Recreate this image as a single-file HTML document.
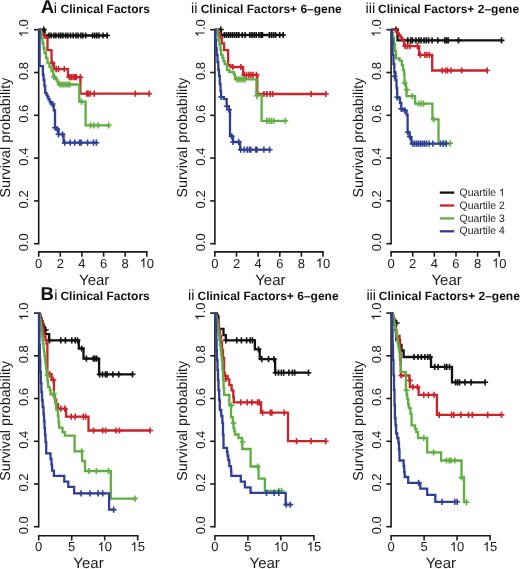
<!DOCTYPE html>
<html><head><meta charset="utf-8"><style>
html,body{margin:0;padding:0;background:#fff;}
svg{display:block;filter:blur(0.3px);font-family:"Liberation Sans", sans-serif;text-rendering:geometricPrecision;}
</style></head><body>
<svg width="520" height="569" viewBox="0 0 520 569">
<rect width="520" height="569" fill="#fff"/>
<g stroke="#1a1a1a" stroke-width="1.6" fill="none" stroke-linecap="butt">
<line x1="38.7" y1="29.7" x2="38.7" y2="244.5"/>
<line x1="34.0" y1="243.7" x2="38.7" y2="243.7"/><line x1="34.0" y1="200.9" x2="38.7" y2="200.9"/><line x1="34.0" y1="158.1" x2="38.7" y2="158.1"/><line x1="34.0" y1="115.3" x2="38.7" y2="115.3"/><line x1="34.0" y1="72.5" x2="38.7" y2="72.5"/><line x1="34.0" y1="29.7" x2="38.7" y2="29.7"/>
<line x1="37.9" y1="251.9" x2="147.6" y2="251.9"/>
<line x1="38.7" y1="251.9" x2="38.7" y2="256.7"/>
<line x1="60.3" y1="251.9" x2="60.3" y2="256.7"/>
<line x1="81.9" y1="251.9" x2="81.9" y2="256.7"/>
<line x1="103.6" y1="251.9" x2="103.6" y2="256.7"/>
<line x1="125.2" y1="251.9" x2="125.2" y2="256.7"/>
<line x1="146.8" y1="251.9" x2="146.8" y2="256.7"/>
</g>
<g fill="#1a1a1a" font-size="13" text-anchor="middle">
<g transform="translate(38.70,267.60)"><text x="-3.61" y="0" font-size="13" fill="#1a1a1a" text-anchor="start">0</text></g>
<g transform="translate(60.32,267.60)"><text x="-3.61" y="0" font-size="13" fill="#1a1a1a" text-anchor="start">2</text></g>
<g transform="translate(81.94,267.60)"><text x="-3.61" y="0" font-size="13" fill="#1a1a1a" text-anchor="start">4</text></g>
<g transform="translate(103.56,267.60)"><text x="-3.61" y="0" font-size="13" fill="#1a1a1a" text-anchor="start">6</text></g>
<g transform="translate(125.18,267.60)"><text x="-3.61" y="0" font-size="13" fill="#1a1a1a" text-anchor="start">8</text></g>
<g transform="translate(146.80,267.60)"><path transform="translate(-7.23,0) scale(0.00635,-0.00635)" d="M763 0L583 0L583 1147Q518 1085 412.5 1023Q307 961 223 930L223 1104Q374 1175 487 1276Q600 1377 647 1472L763 1472Z" fill="#1a1a1a"/><text x="0.00" y="0" font-size="13" fill="#1a1a1a" text-anchor="start">0</text></g>
<g transform="translate(28.30,242.20) rotate(-90)"><text x="-9.04" y="0" font-size="13" fill="#1a1a1a" text-anchor="start">0.0</text></g>
<g transform="translate(28.30,199.40) rotate(-90)"><text x="-9.04" y="0" font-size="13" fill="#1a1a1a" text-anchor="start">0.2</text></g>
<g transform="translate(28.30,156.60) rotate(-90)"><text x="-9.04" y="0" font-size="13" fill="#1a1a1a" text-anchor="start">0.4</text></g>
<g transform="translate(28.30,113.80) rotate(-90)"><text x="-9.04" y="0" font-size="13" fill="#1a1a1a" text-anchor="start">0.6</text></g>
<g transform="translate(28.30,71.00) rotate(-90)"><text x="-9.04" y="0" font-size="13" fill="#1a1a1a" text-anchor="start">0.8</text></g>
<g transform="translate(28.30,28.20) rotate(-90)"><path transform="translate(-9.04,0) scale(0.00635,-0.00635)" d="M763 0L583 0L583 1147Q518 1085 412.5 1023Q307 961 223 930L223 1104Q374 1175 487 1276Q600 1377 647 1472L763 1472Z" fill="#1a1a1a"/><text x="-1.81" y="0" font-size="13" fill="#1a1a1a" text-anchor="start">.0</text></g>
</g>
<text x="94.2" y="285.1" font-size="15" text-anchor="middle" fill="#1a1a1a">Year</text>
<text transform="translate(10.3,137.6) rotate(-90)" font-size="14.3" text-anchor="middle" fill="#1a1a1a">Survival probability</text>
<path d="M38.7 29.7H44.6V35.5H107.2" stroke="#111" stroke-width="2.3" fill="none"/>
<path d="M43.8 26.4v6.2M40.9 29.5h5.8M49.0 32.4v6.2M46.1 35.5h5.8M51.1 32.4v6.2M48.2 35.5h5.8M53.9 32.4v6.2M51.0 35.5h5.8M55.9 32.4v6.2M53.0 35.5h5.8M58.7 32.4v6.2M55.8 35.5h5.8M60.8 32.4v6.2M57.9 35.5h5.8M62.9 32.4v6.2M60.0 35.5h5.8M65.6 32.4v6.2M62.7 35.5h5.8M67.7 32.4v6.2M64.8 35.5h5.8M70.5 32.4v6.2M67.6 35.5h5.8M73.2 32.4v6.2M70.3 35.5h5.8M76.0 32.4v6.2M73.1 35.5h5.8M78.1 32.4v6.2M75.2 35.5h5.8M80.9 32.4v6.2M78.0 35.5h5.8M82.9 32.4v6.2M80.0 35.5h5.8M85.7 32.4v6.2M82.8 35.5h5.8M92.6 32.4v6.2M89.7 35.5h5.8M94.7 32.4v6.2M91.8 35.5h5.8M96.8 32.4v6.2M93.9 35.5h5.8M98.9 32.4v6.2M96.0 35.5h5.8M103.0 32.4v6.2M100.1 35.5h5.8M107.2 32.4v6.2M104.3 35.5h5.8" stroke="#111" stroke-width="1.6" fill="none"/>
<path d="M38.7 29.7H40.5V32.5H42.0V35.0H44.8V37.5H47.5V50.2H51.5V63.0H53.9V69.1H67.9V77.2H80.4V93.7H149.2" stroke="#cc2229" stroke-width="2.3" fill="none"/>
<path d="M52.5 60.2v6.2M49.6 63.3h5.8M56.2 66.0v6.2M53.3 69.1h5.8M58.5 66.0v6.2M55.6 69.1h5.8M64.3 66.0v6.2M61.4 69.1h5.8M69.4 74.1v6.2M66.5 77.2h5.8M71.2 74.1v6.2M68.3 77.2h5.8M73.0 74.1v6.2M70.1 77.2h5.8M74.8 74.1v6.2M71.9 77.2h5.8M76.4 74.1v6.2M73.5 77.2h5.8M80.4 74.1v6.2M77.5 77.2h5.8M86.7 90.6v6.2M83.8 93.7h5.8M88.2 90.6v6.2M85.3 93.7h5.8M90.2 90.6v6.2M87.3 93.7h5.8M94.2 90.6v6.2M91.3 93.7h5.8M135.3 90.6v6.2M132.4 93.7h5.8M149.2 90.6v6.2M146.3 93.7h5.8" stroke="#cc2229" stroke-width="1.6" fill="none"/>
<path d="M38.7 29.7H40.5V33.0H41.5V38.0H42.5V43.0H43.5V48.0H44.5V53.0H46.0V58.0H47.5V63.0H49.5V67.0H51.5V71.0H53.3V75.6H54.5V77.5H56.0V79.5H57.5V82.0H58.3V84.5H79.3V101.6H85.6V125.4H108.7" stroke="#60ae42" stroke-width="2.3" fill="none"/>
<path d="M53.9 73.9v6.2M51.0 77.0h5.8M60.0 81.4v6.2M57.1 84.5h5.8M62.0 81.4v6.2M59.1 84.5h5.8M64.0 81.4v6.2M61.1 84.5h5.8M66.0 81.4v6.2M63.1 84.5h5.8M68.0 81.4v6.2M65.1 84.5h5.8M70.0 81.4v6.2M67.1 84.5h5.8M81.5 98.5v6.2M78.6 101.6h5.8M90.6 122.3v6.2M87.7 125.4h5.8M93.9 122.3v6.2M91.0 125.4h5.8M98.2 122.3v6.2M95.3 125.4h5.8M108.7 122.3v6.2M105.8 125.4h5.8" stroke="#60ae42" stroke-width="1.6" fill="none"/>
<path d="M38.7 29.7H39.6V66.2H42.9V75.0H43.6V80.0H44.4V86.0H45.2V92.9H46.5V95.0H47.5V97.0H48.5V99.5H49.8V102.0H51.0V104.0H52.7V105.8H53.8V110.4H55.0V127.7H57.3V129.4H58.5V134.3H63.6V142.7H96.4" stroke="#303f96" stroke-width="2.3" fill="none"/>
<path d="M52.7 100.9v6.2M49.8 104.0h5.8M55.0 124.6v6.2M52.1 127.7h5.8M57.3 126.3v6.2M54.4 129.4h5.8M58.5 131.2v6.2M55.6 134.3h5.8M62.5 131.2v6.2M59.6 134.3h5.8M64.7 139.6v6.2M61.8 142.7h5.8M70.2 139.6v6.2M67.3 142.7h5.8M74.8 139.6v6.2M71.9 142.7h5.8M79.5 139.6v6.2M76.6 142.7h5.8M81.2 139.6v6.2M78.3 142.7h5.8M87.5 139.6v6.2M84.6 142.7h5.8M93.5 139.6v6.2M90.6 142.7h5.8M96.4 139.6v6.2M93.5 142.7h5.8" stroke="#303f96" stroke-width="1.6" fill="none"/>
<g stroke="#1a1a1a" stroke-width="1.6" fill="none" stroke-linecap="butt">
<line x1="214.9" y1="29.7" x2="214.9" y2="244.5"/>
<line x1="210.2" y1="243.7" x2="214.9" y2="243.7"/><line x1="210.2" y1="200.9" x2="214.9" y2="200.9"/><line x1="210.2" y1="158.1" x2="214.9" y2="158.1"/><line x1="210.2" y1="115.3" x2="214.9" y2="115.3"/><line x1="210.2" y1="72.5" x2="214.9" y2="72.5"/><line x1="210.2" y1="29.7" x2="214.9" y2="29.7"/>
<line x1="214.1" y1="251.9" x2="323.8" y2="251.9"/>
<line x1="214.9" y1="251.9" x2="214.9" y2="256.7"/>
<line x1="236.5" y1="251.9" x2="236.5" y2="256.7"/>
<line x1="258.1" y1="251.9" x2="258.1" y2="256.7"/>
<line x1="279.8" y1="251.9" x2="279.8" y2="256.7"/>
<line x1="301.4" y1="251.9" x2="301.4" y2="256.7"/>
<line x1="323.0" y1="251.9" x2="323.0" y2="256.7"/>
</g>
<g fill="#1a1a1a" font-size="13" text-anchor="middle">
<g transform="translate(214.90,267.60)"><text x="-3.61" y="0" font-size="13" fill="#1a1a1a" text-anchor="start">0</text></g>
<g transform="translate(236.52,267.60)"><text x="-3.61" y="0" font-size="13" fill="#1a1a1a" text-anchor="start">2</text></g>
<g transform="translate(258.14,267.60)"><text x="-3.61" y="0" font-size="13" fill="#1a1a1a" text-anchor="start">4</text></g>
<g transform="translate(279.76,267.60)"><text x="-3.61" y="0" font-size="13" fill="#1a1a1a" text-anchor="start">6</text></g>
<g transform="translate(301.38,267.60)"><text x="-3.61" y="0" font-size="13" fill="#1a1a1a" text-anchor="start">8</text></g>
<g transform="translate(323.00,267.60)"><path transform="translate(-7.23,0) scale(0.00635,-0.00635)" d="M763 0L583 0L583 1147Q518 1085 412.5 1023Q307 961 223 930L223 1104Q374 1175 487 1276Q600 1377 647 1472L763 1472Z" fill="#1a1a1a"/><text x="0.00" y="0" font-size="13" fill="#1a1a1a" text-anchor="start">0</text></g>
<g transform="translate(204.50,242.20) rotate(-90)"><text x="-9.04" y="0" font-size="13" fill="#1a1a1a" text-anchor="start">0.0</text></g>
<g transform="translate(204.50,199.40) rotate(-90)"><text x="-9.04" y="0" font-size="13" fill="#1a1a1a" text-anchor="start">0.2</text></g>
<g transform="translate(204.50,156.60) rotate(-90)"><text x="-9.04" y="0" font-size="13" fill="#1a1a1a" text-anchor="start">0.4</text></g>
<g transform="translate(204.50,113.80) rotate(-90)"><text x="-9.04" y="0" font-size="13" fill="#1a1a1a" text-anchor="start">0.6</text></g>
<g transform="translate(204.50,71.00) rotate(-90)"><text x="-9.04" y="0" font-size="13" fill="#1a1a1a" text-anchor="start">0.8</text></g>
<g transform="translate(204.50,28.20) rotate(-90)"><path transform="translate(-9.04,0) scale(0.00635,-0.00635)" d="M763 0L583 0L583 1147Q518 1085 412.5 1023Q307 961 223 930L223 1104Q374 1175 487 1276Q600 1377 647 1472L763 1472Z" fill="#1a1a1a"/><text x="-1.81" y="0" font-size="13" fill="#1a1a1a" text-anchor="start">.0</text></g>
</g>
<text x="270.4" y="285.1" font-size="15" text-anchor="middle" fill="#1a1a1a">Year</text>
<text transform="translate(186.5,137.6) rotate(-90)" font-size="14.3" text-anchor="middle" fill="#1a1a1a">Survival probability</text>
<path d="M214.9 29.7H221.0V35.0H283.2" stroke="#111" stroke-width="2.3" fill="none"/>
<path d="M220.8 26.4v6.2M217.9 29.5h5.8M224.3 31.9v6.2M221.4 35.0h5.8M226.4 31.9v6.2M223.5 35.0h5.8M228.5 31.9v6.2M225.6 35.0h5.8M230.5 31.9v6.2M227.6 35.0h5.8M232.6 31.9v6.2M229.7 35.0h5.8M234.7 31.9v6.2M231.8 35.0h5.8M236.8 31.9v6.2M233.9 35.0h5.8M238.9 31.9v6.2M236.0 35.0h5.8M242.3 31.9v6.2M239.4 35.0h5.8M245.1 31.9v6.2M242.2 35.0h5.8M249.9 31.9v6.2M247.0 35.0h5.8M252.0 31.9v6.2M249.1 35.0h5.8M254.1 31.9v6.2M251.2 35.0h5.8M256.2 31.9v6.2M253.3 35.0h5.8M258.9 31.9v6.2M256.0 35.0h5.8M261.0 31.9v6.2M258.1 35.0h5.8M262.4 31.9v6.2M259.5 35.0h5.8M269.3 31.9v6.2M266.4 35.0h5.8M271.4 31.9v6.2M268.5 35.0h5.8M273.5 31.9v6.2M270.6 35.0h5.8M275.6 31.9v6.2M272.7 35.0h5.8M279.7 31.9v6.2M276.8 35.0h5.8M283.2 31.9v6.2M280.3 35.0h5.8" stroke="#111" stroke-width="1.6" fill="none"/>
<path d="M214.9 29.7H218.0V33.0H220.0V37.5H221.8V43.3H224.1V50.2H228.1V65.2H230.5V67.0H243.1V74.8H257.3V94.0H325.9" stroke="#cc2229" stroke-width="2.3" fill="none"/>
<path d="M232.8 63.9v6.2M229.9 67.0h5.8M240.8 63.9v6.2M237.9 67.0h5.8M244.3 71.7v6.2M241.4 74.8h5.8M246.6 71.7v6.2M243.7 74.8h5.8M248.9 71.7v6.2M246.0 74.8h5.8M251.0 71.7v6.2M248.1 74.8h5.8M253.0 71.7v6.2M250.1 74.8h5.8M256.4 71.7v6.2M253.5 74.8h5.8M263.9 90.9v6.2M261.0 94.0h5.8M266.8 90.9v6.2M263.9 94.0h5.8M270.3 90.9v6.2M267.4 94.0h5.8M272.6 90.9v6.2M269.7 94.0h5.8M311.0 90.9v6.2M308.1 94.0h5.8M325.9 90.9v6.2M323.0 94.0h5.8" stroke="#cc2229" stroke-width="1.6" fill="none"/>
<path d="M214.9 29.7H217.5V35.0H218.5V40.0H219.5V45.0H220.5V50.0H221.2V54.8H222.5V58.0H223.5V61.0H224.7V64.1H227.0V69.8H229.3V72.1H233.9V74.4H235.0V79.3H256.4V95.2H261.6V120.8H285.3" stroke="#60ae42" stroke-width="2.3" fill="none"/>
<path d="M257.0 92.7v6.2M254.1 95.8h5.8M237.0 76.2v6.2M234.1 79.3h5.8M239.0 76.2v6.2M236.1 79.3h5.8M241.0 76.2v6.2M238.1 79.3h5.8M243.0 76.2v6.2M240.1 79.3h5.8M245.0 76.2v6.2M242.1 79.3h5.8M266.8 117.7v6.2M263.9 120.8h5.8M269.1 117.7v6.2M266.2 120.8h5.8M271.4 117.7v6.2M268.5 120.8h5.8M273.7 117.7v6.2M270.8 120.8h5.8M285.3 117.7v6.2M282.4 120.8h5.8" stroke="#60ae42" stroke-width="1.6" fill="none"/>
<path d="M214.9 29.7H215.5V40.0H216.0V48.0H216.7V55.0H217.5V62.0H218.3V70.0H219.0V76.0H219.8V84.0H220.5V91.0H221.1V97.1H223.9V99.2H226.7V106.2H228.9V109.7H230.0V135.7H231.7V136.4H233.0V142.0H240.1V149.7H269.7" stroke="#303f96" stroke-width="2.3" fill="none"/>
<path d="M221.1 93.9v6.2M218.2 97.0h5.8M226.7 103.1v6.2M223.8 106.2h5.8M228.9 106.6v6.2M226.0 109.7h5.8M231.7 133.3v6.2M228.8 136.4h5.8M233.0 138.9v6.2M230.1 142.0h5.8M238.7 138.9v6.2M235.8 142.0h5.8M240.8 146.6v6.2M237.9 149.7h5.8M244.3 146.6v6.2M241.4 149.7h5.8M247.2 146.6v6.2M244.3 149.7h5.8M249.5 146.6v6.2M246.6 149.7h5.8M250.7 146.6v6.2M247.8 149.7h5.8M255.8 146.6v6.2M252.9 149.7h5.8M257.0 146.6v6.2M254.1 149.7h5.8M263.9 146.6v6.2M261.0 149.7h5.8M269.7 146.6v6.2M266.8 149.7h5.8" stroke="#303f96" stroke-width="1.6" fill="none"/>
<g stroke="#1a1a1a" stroke-width="1.6" fill="none" stroke-linecap="butt">
<line x1="391.1" y1="29.7" x2="391.1" y2="244.5"/>
<line x1="386.4" y1="243.7" x2="391.1" y2="243.7"/><line x1="386.4" y1="200.9" x2="391.1" y2="200.9"/><line x1="386.4" y1="158.1" x2="391.1" y2="158.1"/><line x1="386.4" y1="115.3" x2="391.1" y2="115.3"/><line x1="386.4" y1="72.5" x2="391.1" y2="72.5"/><line x1="386.4" y1="29.7" x2="391.1" y2="29.7"/>
<line x1="390.3" y1="251.9" x2="500.0" y2="251.9"/>
<line x1="391.1" y1="251.9" x2="391.1" y2="256.7"/>
<line x1="412.7" y1="251.9" x2="412.7" y2="256.7"/>
<line x1="434.3" y1="251.9" x2="434.3" y2="256.7"/>
<line x1="456.0" y1="251.9" x2="456.0" y2="256.7"/>
<line x1="477.6" y1="251.9" x2="477.6" y2="256.7"/>
<line x1="499.2" y1="251.9" x2="499.2" y2="256.7"/>
</g>
<g fill="#1a1a1a" font-size="13" text-anchor="middle">
<g transform="translate(391.10,267.60)"><text x="-3.61" y="0" font-size="13" fill="#1a1a1a" text-anchor="start">0</text></g>
<g transform="translate(412.72,267.60)"><text x="-3.61" y="0" font-size="13" fill="#1a1a1a" text-anchor="start">2</text></g>
<g transform="translate(434.34,267.60)"><text x="-3.61" y="0" font-size="13" fill="#1a1a1a" text-anchor="start">4</text></g>
<g transform="translate(455.96,267.60)"><text x="-3.61" y="0" font-size="13" fill="#1a1a1a" text-anchor="start">6</text></g>
<g transform="translate(477.58,267.60)"><text x="-3.61" y="0" font-size="13" fill="#1a1a1a" text-anchor="start">8</text></g>
<g transform="translate(499.20,267.60)"><path transform="translate(-7.23,0) scale(0.00635,-0.00635)" d="M763 0L583 0L583 1147Q518 1085 412.5 1023Q307 961 223 930L223 1104Q374 1175 487 1276Q600 1377 647 1472L763 1472Z" fill="#1a1a1a"/><text x="0.00" y="0" font-size="13" fill="#1a1a1a" text-anchor="start">0</text></g>
<g transform="translate(380.70,242.20) rotate(-90)"><text x="-9.04" y="0" font-size="13" fill="#1a1a1a" text-anchor="start">0.0</text></g>
<g transform="translate(380.70,199.40) rotate(-90)"><text x="-9.04" y="0" font-size="13" fill="#1a1a1a" text-anchor="start">0.2</text></g>
<g transform="translate(380.70,156.60) rotate(-90)"><text x="-9.04" y="0" font-size="13" fill="#1a1a1a" text-anchor="start">0.4</text></g>
<g transform="translate(380.70,113.80) rotate(-90)"><text x="-9.04" y="0" font-size="13" fill="#1a1a1a" text-anchor="start">0.6</text></g>
<g transform="translate(380.70,71.00) rotate(-90)"><text x="-9.04" y="0" font-size="13" fill="#1a1a1a" text-anchor="start">0.8</text></g>
<g transform="translate(380.70,28.20) rotate(-90)"><path transform="translate(-9.04,0) scale(0.00635,-0.00635)" d="M763 0L583 0L583 1147Q518 1085 412.5 1023Q307 961 223 930L223 1104Q374 1175 487 1276Q600 1377 647 1472L763 1472Z" fill="#1a1a1a"/><text x="-1.81" y="0" font-size="13" fill="#1a1a1a" text-anchor="start">.0</text></g>
</g>
<text x="446.6" y="285.1" font-size="15" text-anchor="middle" fill="#1a1a1a">Year</text>
<text transform="translate(362.7,137.6) rotate(-90)" font-size="14.3" text-anchor="middle" fill="#1a1a1a">Survival probability</text>
<path d="M391.1 29.7H397.5V40.4H501.6" stroke="#111" stroke-width="2.3" fill="none"/>
<path d="M396.0 26.4v6.2M393.1 29.5h5.8M407.8 37.3v6.2M404.9 40.4h5.8M410.7 37.3v6.2M407.8 40.4h5.8M412.5 37.3v6.2M409.6 40.4h5.8M415.9 37.3v6.2M413.0 40.4h5.8M418.8 37.3v6.2M415.9 40.4h5.8M421.1 37.3v6.2M418.2 40.4h5.8M424.0 37.3v6.2M421.1 40.4h5.8M426.3 37.3v6.2M423.4 40.4h5.8M428.6 37.3v6.2M425.7 40.4h5.8M432.1 37.3v6.2M429.2 40.4h5.8M437.8 37.3v6.2M434.9 40.4h5.8M444.7 37.3v6.2M441.8 40.4h5.8M446.5 37.3v6.2M443.6 40.4h5.8M448.2 37.3v6.2M445.3 40.4h5.8M458.5 37.3v6.2M455.6 40.4h5.8M501.6 37.3v6.2M498.7 40.4h5.8" stroke="#111" stroke-width="1.6" fill="none"/>
<path d="M391.1 29.7H396.0V31.5H397.5V33.5H399.0V35.5H400.5V37.5H402.0V39.5H403.5V41.0H404.1V46.2H419.1V54.8H432.2V70.5H487.2" stroke="#cc2229" stroke-width="2.3" fill="none"/>
<path d="M405.3 43.1v6.2M402.4 46.2h5.8M407.5 43.1v6.2M404.6 46.2h5.8M409.9 43.1v6.2M407.0 46.2h5.8M417.4 43.1v6.2M414.5 46.2h5.8M420.3 51.7v6.2M417.4 54.8h5.8M424.9 51.7v6.2M422.0 54.8h5.8M427.0 51.7v6.2M424.1 54.8h5.8M429.5 51.7v6.2M426.6 54.8h5.8M442.2 67.4v6.2M439.3 70.5h5.8M445.5 67.4v6.2M442.6 70.5h5.8M447.5 67.4v6.2M444.6 70.5h5.8M450.9 67.4v6.2M448.0 70.5h5.8M461.7 67.4v6.2M458.8 70.5h5.8M487.2 67.4v6.2M484.3 70.5h5.8" stroke="#cc2229" stroke-width="1.6" fill="none"/>
<path d="M391.1 29.7H392.0V33.0H393.0V37.5H394.0V44.0H395.0V51.0H396.0V58.3H399.5V60.6H401.8V65.2H403.0V70.0H404.1V74.4H404.5V82.9H405.9V89.8H406.5V96.2H415.1V103.7H432.4V119.3H438.5V143.3H450.2" stroke="#60ae42" stroke-width="2.3" fill="none"/>
<path d="M404.5 79.9v6.2M401.6 83.0h5.8M407.0 86.7v6.2M404.1 89.8h5.8M412.2 93.1v6.2M409.3 96.2h5.8M418.5 100.6v6.2M415.6 103.7h5.8M421.0 100.6v6.2M418.1 103.7h5.8M423.5 100.6v6.2M420.6 103.7h5.8M433.6 116.2v6.2M430.7 119.3h5.8M442.7 140.2v6.2M439.8 143.3h5.8M445.6 140.2v6.2M442.7 143.3h5.8M450.2 140.2v6.2M447.3 143.3h5.8" stroke="#60ae42" stroke-width="1.6" fill="none"/>
<path d="M391.1 29.7H391.8V40.0H392.6V54.8H393.5V64.0H394.3V72.1H395.5V80.0H396.5V88.0H397.2V97.3H399.0V98.0H400.0V103.0H401.3V108.9H404.7V110.6H406.5V114.6H407.6V132.3H409.5V136.8H411.0V139.1H411.5V143.7H446.2" stroke="#303f96" stroke-width="2.3" fill="none"/>
<path d="M394.5 73.1v6.2M391.6 76.2h5.8M397.2 94.2v6.2M394.3 97.3h5.8M401.3 105.8v6.2M398.4 108.9h5.8M404.7 107.5v6.2M401.8 110.6h5.8M407.8 129.2v6.2M404.9 132.3h5.8M409.9 133.7v6.2M407.0 136.8h5.8M412.5 140.6v6.2M409.6 143.7h5.8M414.5 140.6v6.2M411.6 143.7h5.8M416.5 140.6v6.2M413.6 143.7h5.8M418.5 140.6v6.2M415.6 143.7h5.8M420.5 140.6v6.2M417.6 143.7h5.8M422.5 140.6v6.2M419.6 143.7h5.8M424.5 140.6v6.2M421.6 143.7h5.8M426.5 140.6v6.2M423.6 143.7h5.8M429.0 140.6v6.2M426.1 143.7h5.8M432.9 140.6v6.2M430.0 143.7h5.8M440.4 140.6v6.2M437.5 143.7h5.8M443.3 140.6v6.2M440.4 143.7h5.8M446.2 140.6v6.2M443.3 143.7h5.8" stroke="#303f96" stroke-width="1.6" fill="none"/>
<g stroke="#1a1a1a" stroke-width="1.6" fill="none" stroke-linecap="butt">
<line x1="38.7" y1="313.1" x2="38.7" y2="527.5"/>
<line x1="34.0" y1="526.7" x2="38.7" y2="526.7"/><line x1="34.0" y1="484.0" x2="38.7" y2="484.0"/><line x1="34.0" y1="441.3" x2="38.7" y2="441.3"/><line x1="34.0" y1="398.5" x2="38.7" y2="398.5"/><line x1="34.0" y1="355.8" x2="38.7" y2="355.8"/><line x1="34.0" y1="313.1" x2="38.7" y2="313.1"/>
<line x1="37.9" y1="535.7" x2="138.5" y2="535.7"/>
<line x1="38.7" y1="535.7" x2="38.7" y2="540.5"/>
<line x1="71.7" y1="535.7" x2="71.7" y2="540.5"/>
<line x1="104.7" y1="535.7" x2="104.7" y2="540.5"/>
<line x1="137.7" y1="535.7" x2="137.7" y2="540.5"/>
</g>
<g fill="#1a1a1a" font-size="13" text-anchor="middle">
<g transform="translate(38.70,551.30)"><text x="-3.61" y="0" font-size="13" fill="#1a1a1a" text-anchor="start">0</text></g>
<g transform="translate(71.70,551.30)"><text x="-3.61" y="0" font-size="13" fill="#1a1a1a" text-anchor="start">5</text></g>
<g transform="translate(104.70,551.30)"><path transform="translate(-7.23,0) scale(0.00635,-0.00635)" d="M763 0L583 0L583 1147Q518 1085 412.5 1023Q307 961 223 930L223 1104Q374 1175 487 1276Q600 1377 647 1472L763 1472Z" fill="#1a1a1a"/><text x="0.00" y="0" font-size="13" fill="#1a1a1a" text-anchor="start">0</text></g>
<g transform="translate(137.70,551.30)"><path transform="translate(-7.23,0) scale(0.00635,-0.00635)" d="M763 0L583 0L583 1147Q518 1085 412.5 1023Q307 961 223 930L223 1104Q374 1175 487 1276Q600 1377 647 1472L763 1472Z" fill="#1a1a1a"/><text x="0.00" y="0" font-size="13" fill="#1a1a1a" text-anchor="start">5</text></g>
<g transform="translate(28.30,525.20) rotate(-90)"><text x="-9.04" y="0" font-size="13" fill="#1a1a1a" text-anchor="start">0.0</text></g>
<g transform="translate(28.30,482.48) rotate(-90)"><text x="-9.04" y="0" font-size="13" fill="#1a1a1a" text-anchor="start">0.2</text></g>
<g transform="translate(28.30,439.76) rotate(-90)"><text x="-9.04" y="0" font-size="13" fill="#1a1a1a" text-anchor="start">0.4</text></g>
<g transform="translate(28.30,397.04) rotate(-90)"><text x="-9.04" y="0" font-size="13" fill="#1a1a1a" text-anchor="start">0.6</text></g>
<g transform="translate(28.30,354.32) rotate(-90)"><text x="-9.04" y="0" font-size="13" fill="#1a1a1a" text-anchor="start">0.8</text></g>
<g transform="translate(28.30,311.60) rotate(-90)"><path transform="translate(-9.04,0) scale(0.00635,-0.00635)" d="M763 0L583 0L583 1147Q518 1085 412.5 1023Q307 961 223 930L223 1104Q374 1175 487 1276Q600 1377 647 1472L763 1472Z" fill="#1a1a1a"/><text x="-1.81" y="0" font-size="13" fill="#1a1a1a" text-anchor="start">.0</text></g>
</g>
<text x="88.5" y="568.0" font-size="15" text-anchor="middle" fill="#1a1a1a">Year</text>
<text transform="translate(10.3,420.8) rotate(-90)" font-size="14.3" text-anchor="middle" fill="#1a1a1a">Survival probability</text>
<path d="M38.7 313.1H39.5V315.0H40.5V318.0H41.5V321.0H42.5V324.0H43.5V327.0H44.8V334.1H49.2V340.4H78.8V348.5H83.5V358.6H99.1V374.4H132.5" stroke="#111" stroke-width="2.3" fill="none"/>
<path d="M45.8 326.9v6.2M42.9 330.0h5.8M49.4 337.3v6.2M46.5 340.4h5.8M60.8 337.3v6.2M57.9 340.4h5.8M65.4 337.3v6.2M62.5 340.4h5.8M71.8 337.3v6.2M68.9 340.4h5.8M75.2 337.3v6.2M72.3 340.4h5.8M77.5 337.3v6.2M74.6 340.4h5.8M81.7 345.4v6.2M78.8 348.5h5.8M86.4 355.5v6.2M83.5 358.6h5.8M93.3 355.5v6.2M90.4 358.6h5.8M95.0 355.5v6.2M92.1 358.6h5.8M96.8 355.5v6.2M93.9 358.6h5.8M99.6 371.3v6.2M96.7 374.4h5.8M102.5 371.3v6.2M99.6 374.4h5.8M105.4 371.3v6.2M102.5 374.4h5.8M107.1 371.3v6.2M104.2 374.4h5.8M112.9 371.3v6.2M110.0 374.4h5.8M118.7 371.3v6.2M115.8 374.4h5.8M132.5 371.3v6.2M129.6 374.4h5.8" stroke="#111" stroke-width="1.6" fill="none"/>
<path d="M38.7 313.1H39.5V316.0H40.5V319.0H41.5V323.0H42.5V328.0H43.5V333.0H44.5V337.0H45.5V340.0H46.5V343.5H47.4V374.4H51.6V379.9H53.9V396.1H55.0V400.0H56.2V404.1H57.9V408.7H66.0V416.7H88.5V430.5H150.2" stroke="#cc2229" stroke-width="2.3" fill="none"/>
<path d="M49.8 371.3v6.2M46.9 374.4h5.8M53.3 376.8v6.2M50.4 379.9h5.8M60.8 405.6v6.2M57.9 408.7h5.8M64.8 405.6v6.2M61.9 408.7h5.8M71.2 413.6v6.2M68.3 416.7h5.8M75.2 413.6v6.2M72.3 416.7h5.8M83.3 413.6v6.2M80.4 416.7h5.8M85.6 413.6v6.2M82.7 416.7h5.8M93.5 427.4v6.2M90.6 430.5h5.8M102.7 427.4v6.2M99.8 430.5h5.8M105.6 427.4v6.2M102.7 430.5h5.8M116.0 427.4v6.2M113.1 430.5h5.8M119.4 427.4v6.2M116.5 430.5h5.8M150.2 427.4v6.2M147.3 430.5h5.8" stroke="#cc2229" stroke-width="1.6" fill="none"/>
<path d="M38.7 313.1H39.5V316.0H40.0V320.0H40.5V324.0H41.0V328.0H41.5V332.0H42.0V336.0H42.5V340.0H43.0V344.0H43.5V348.0H44.0V352.0H44.5V356.0H45.0V360.0H45.5V364.0H46.0V368.0H46.5V372.0H47.0V376.0H47.5V381.0H48.0V386.8H49.8V390.0H50.5V394.3H53.3V395.0H54.5V398.4H55.2V403.0H56.2V409.9H57.9V416.1H58.5V422.0H59.1V427.6H62.5V432.2H64.8V435.7H74.6V451.3H82.1V461.0H85.0V471.0H110.8V498.6H135.0" stroke="#60ae42" stroke-width="2.3" fill="none"/>
<path d="M47.5 371.9v6.2M44.6 375.0h5.8M53.9 390.4v6.2M51.0 393.5h5.8M81.6 448.2v6.2M78.7 451.3h5.8M88.9 467.9v6.2M86.0 471.0h5.8M96.4 467.9v6.2M93.5 471.0h5.8M108.5 467.9v6.2M105.6 471.0h5.8M135.0 495.5v6.2M132.1 498.6h5.8" stroke="#60ae42" stroke-width="1.6" fill="none"/>
<path d="M38.7 313.1H39.1V330.0H39.4V345.0H39.8V360.0H40.3V372.0H40.8V383.0H41.4V392.0H42.0V400.0H42.7V407.0H43.5V414.0H44.0V421.0H44.5V428.0H45.0V435.0H45.5V442.0H46.2V453.4H50.5V459.0H51.5V465.0H52.1V470.7H53.9V475.9H64.3V481.6H68.3V486.8H74.1V493.4H109.1V509.6H113.7" stroke="#303f96" stroke-width="2.3" fill="none"/>
<path d="M81.0 490.3v6.2M78.1 493.4h5.8M90.0 490.3v6.2M87.1 493.4h5.8M98.1 490.3v6.2M95.2 493.4h5.8M102.7 490.3v6.2M99.8 493.4h5.8M113.7 506.5v6.2M110.8 509.6h5.8" stroke="#303f96" stroke-width="1.6" fill="none"/>
<g stroke="#1a1a1a" stroke-width="1.6" fill="none" stroke-linecap="butt">
<line x1="214.9" y1="313.1" x2="214.9" y2="527.5"/>
<line x1="210.2" y1="526.7" x2="214.9" y2="526.7"/><line x1="210.2" y1="484.0" x2="214.9" y2="484.0"/><line x1="210.2" y1="441.3" x2="214.9" y2="441.3"/><line x1="210.2" y1="398.5" x2="214.9" y2="398.5"/><line x1="210.2" y1="355.8" x2="214.9" y2="355.8"/><line x1="210.2" y1="313.1" x2="214.9" y2="313.1"/>
<line x1="214.1" y1="535.7" x2="314.7" y2="535.7"/>
<line x1="214.9" y1="535.7" x2="214.9" y2="540.5"/>
<line x1="247.9" y1="535.7" x2="247.9" y2="540.5"/>
<line x1="280.9" y1="535.7" x2="280.9" y2="540.5"/>
<line x1="313.9" y1="535.7" x2="313.9" y2="540.5"/>
</g>
<g fill="#1a1a1a" font-size="13" text-anchor="middle">
<g transform="translate(214.90,551.30)"><text x="-3.61" y="0" font-size="13" fill="#1a1a1a" text-anchor="start">0</text></g>
<g transform="translate(247.90,551.30)"><text x="-3.61" y="0" font-size="13" fill="#1a1a1a" text-anchor="start">5</text></g>
<g transform="translate(280.90,551.30)"><path transform="translate(-7.23,0) scale(0.00635,-0.00635)" d="M763 0L583 0L583 1147Q518 1085 412.5 1023Q307 961 223 930L223 1104Q374 1175 487 1276Q600 1377 647 1472L763 1472Z" fill="#1a1a1a"/><text x="0.00" y="0" font-size="13" fill="#1a1a1a" text-anchor="start">0</text></g>
<g transform="translate(313.90,551.30)"><path transform="translate(-7.23,0) scale(0.00635,-0.00635)" d="M763 0L583 0L583 1147Q518 1085 412.5 1023Q307 961 223 930L223 1104Q374 1175 487 1276Q600 1377 647 1472L763 1472Z" fill="#1a1a1a"/><text x="0.00" y="0" font-size="13" fill="#1a1a1a" text-anchor="start">5</text></g>
<g transform="translate(204.50,525.20) rotate(-90)"><text x="-9.04" y="0" font-size="13" fill="#1a1a1a" text-anchor="start">0.0</text></g>
<g transform="translate(204.50,482.48) rotate(-90)"><text x="-9.04" y="0" font-size="13" fill="#1a1a1a" text-anchor="start">0.2</text></g>
<g transform="translate(204.50,439.76) rotate(-90)"><text x="-9.04" y="0" font-size="13" fill="#1a1a1a" text-anchor="start">0.4</text></g>
<g transform="translate(204.50,397.04) rotate(-90)"><text x="-9.04" y="0" font-size="13" fill="#1a1a1a" text-anchor="start">0.6</text></g>
<g transform="translate(204.50,354.32) rotate(-90)"><text x="-9.04" y="0" font-size="13" fill="#1a1a1a" text-anchor="start">0.8</text></g>
<g transform="translate(204.50,311.60) rotate(-90)"><path transform="translate(-9.04,0) scale(0.00635,-0.00635)" d="M763 0L583 0L583 1147Q518 1085 412.5 1023Q307 961 223 930L223 1104Q374 1175 487 1276Q600 1377 647 1472L763 1472Z" fill="#1a1a1a"/><text x="-1.81" y="0" font-size="13" fill="#1a1a1a" text-anchor="start">.0</text></g>
</g>
<text x="264.7" y="568.0" font-size="15" text-anchor="middle" fill="#1a1a1a">Year</text>
<text transform="translate(186.5,420.8) rotate(-90)" font-size="14.3" text-anchor="middle" fill="#1a1a1a">Survival probability</text>
<path d="M214.9 313.1H216.5V314.5H217.5V316.5H218.5V328.8H223.5V335.1H225.8V340.3H254.9V349.3H259.7V359.2H275.1V372.7H308.5" stroke="#111" stroke-width="2.3" fill="none"/>
<path d="M225.8 337.2v6.2M222.9 340.3h5.8M236.8 337.2v6.2M233.9 340.3h5.8M241.4 337.2v6.2M238.5 340.3h5.8M246.6 337.2v6.2M243.7 340.3h5.8M250.1 337.2v6.2M247.2 340.3h5.8M252.4 337.2v6.2M249.5 340.3h5.8M258.5 346.2v6.2M255.6 349.3h5.8M261.8 356.1v6.2M258.9 359.2h5.8M268.5 356.1v6.2M265.6 359.2h5.8M273.9 356.1v6.2M271.0 359.2h5.8M275.6 369.6v6.2M272.7 372.7h5.8M278.5 369.6v6.2M275.6 372.7h5.8M281.4 369.6v6.2M278.5 372.7h5.8M283.7 369.6v6.2M280.8 372.7h5.8M288.9 369.6v6.2M286.0 372.7h5.8M292.4 369.6v6.2M289.5 372.7h5.8M294.7 369.6v6.2M291.8 372.7h5.8M308.5 369.6v6.2M305.6 372.7h5.8" stroke="#111" stroke-width="1.6" fill="none"/>
<path d="M214.9 313.1H216.0V316.0H217.0V320.0H218.0V325.0H219.0V330.0H220.0V336.0H221.0V342.0H222.0V350.0H223.0V358.0H224.1V373.0H225.0V376.0H227.6V379.3H229.3V385.1H231.6V390.3H233.3V397.2H233.8V402.4H261.0V412.7H288.0V441.2H325.7" stroke="#cc2229" stroke-width="2.3" fill="none"/>
<path d="M225.8 375.7v6.2M222.9 378.8h5.8M240.8 399.3v6.2M237.9 402.4h5.8M247.2 399.3v6.2M244.3 402.4h5.8M251.8 399.3v6.2M248.9 402.4h5.8M257.6 399.3v6.2M254.7 402.4h5.8M259.3 399.3v6.2M256.4 402.4h5.8M262.6 409.6v6.2M259.7 412.7h5.8M270.3 409.6v6.2M267.4 412.7h5.8M271.8 409.6v6.2M268.9 412.7h5.8M284.2 409.6v6.2M281.3 412.7h5.8M296.5 438.1v6.2M293.6 441.2h5.8M311.1 438.1v6.2M308.2 441.2h5.8M325.7 438.1v6.2M322.8 441.2h5.8" stroke="#cc2229" stroke-width="1.6" fill="none"/>
<path d="M214.9 313.1H215.8V316.0H216.5V320.0H217.2V325.0H218.0V330.0H218.7V335.0H219.4V340.0H220.0V345.0H220.7V350.0H221.3V355.0H221.8V360.0H222.4V370.0H223.0V380.0H223.6V388.0H224.1V394.9H229.3V405.3H231.0V417.2H232.8V423.0H233.5V428.0H234.3V431.0H235.1V434.5H238.5V438.0H242.0V442.0H242.3V449.0H250.6V466.5H258.6V478.7H264.9V490.8H281.6" stroke="#60ae42" stroke-width="2.3" fill="none"/>
<path d="M231.6 402.2v6.2M228.7 405.3h5.8M233.5 419.9v6.2M230.6 423.0h5.8M242.6 438.9v6.2M239.7 442.0h5.8M257.6 463.4v6.2M254.7 466.5h5.8M278.8 487.7v6.2M275.9 490.8h5.8M281.6 487.7v6.2M278.7 490.8h5.8" stroke="#60ae42" stroke-width="1.6" fill="none"/>
<path d="M214.9 313.1H215.6V320.0H216.0V330.0H216.3V340.0H216.6V350.0H216.9V360.0H217.5V370.0H218.0V380.0H218.5V390.0H219.2V400.0H219.8V410.0H221.2V416.0H222.4V423.0H223.0V435.0H223.5V447.8H227.0V452.0H227.6V456.0H228.3V460.0H229.3V466.1H231.0V470.7H231.3V475.9H240.8V481.6H244.9V487.4H250.6V492.9H285.7V504.6H290.3" stroke="#303f96" stroke-width="2.3" fill="none"/>
<path d="M266.5 489.8v6.2M263.6 492.9h5.8M274.1 489.8v6.2M271.2 492.9h5.8M278.8 489.8v6.2M275.9 492.9h5.8M286.3 501.5v6.2M283.4 504.6h5.8M290.3 501.5v6.2M287.4 504.6h5.8" stroke="#303f96" stroke-width="1.6" fill="none"/>
<g stroke="#1a1a1a" stroke-width="1.6" fill="none" stroke-linecap="butt">
<line x1="391.1" y1="313.1" x2="391.1" y2="527.5"/>
<line x1="386.4" y1="526.7" x2="391.1" y2="526.7"/><line x1="386.4" y1="484.0" x2="391.1" y2="484.0"/><line x1="386.4" y1="441.3" x2="391.1" y2="441.3"/><line x1="386.4" y1="398.5" x2="391.1" y2="398.5"/><line x1="386.4" y1="355.8" x2="391.1" y2="355.8"/><line x1="386.4" y1="313.1" x2="391.1" y2="313.1"/>
<line x1="390.3" y1="535.7" x2="490.9" y2="535.7"/>
<line x1="391.1" y1="535.7" x2="391.1" y2="540.5"/>
<line x1="424.1" y1="535.7" x2="424.1" y2="540.5"/>
<line x1="457.1" y1="535.7" x2="457.1" y2="540.5"/>
<line x1="490.1" y1="535.7" x2="490.1" y2="540.5"/>
</g>
<g fill="#1a1a1a" font-size="13" text-anchor="middle">
<g transform="translate(391.10,551.30)"><text x="-3.61" y="0" font-size="13" fill="#1a1a1a" text-anchor="start">0</text></g>
<g transform="translate(424.10,551.30)"><text x="-3.61" y="0" font-size="13" fill="#1a1a1a" text-anchor="start">5</text></g>
<g transform="translate(457.10,551.30)"><path transform="translate(-7.23,0) scale(0.00635,-0.00635)" d="M763 0L583 0L583 1147Q518 1085 412.5 1023Q307 961 223 930L223 1104Q374 1175 487 1276Q600 1377 647 1472L763 1472Z" fill="#1a1a1a"/><text x="0.00" y="0" font-size="13" fill="#1a1a1a" text-anchor="start">0</text></g>
<g transform="translate(490.10,551.30)"><path transform="translate(-7.23,0) scale(0.00635,-0.00635)" d="M763 0L583 0L583 1147Q518 1085 412.5 1023Q307 961 223 930L223 1104Q374 1175 487 1276Q600 1377 647 1472L763 1472Z" fill="#1a1a1a"/><text x="0.00" y="0" font-size="13" fill="#1a1a1a" text-anchor="start">5</text></g>
<g transform="translate(380.70,525.20) rotate(-90)"><text x="-9.04" y="0" font-size="13" fill="#1a1a1a" text-anchor="start">0.0</text></g>
<g transform="translate(380.70,482.48) rotate(-90)"><text x="-9.04" y="0" font-size="13" fill="#1a1a1a" text-anchor="start">0.2</text></g>
<g transform="translate(380.70,439.76) rotate(-90)"><text x="-9.04" y="0" font-size="13" fill="#1a1a1a" text-anchor="start">0.4</text></g>
<g transform="translate(380.70,397.04) rotate(-90)"><text x="-9.04" y="0" font-size="13" fill="#1a1a1a" text-anchor="start">0.6</text></g>
<g transform="translate(380.70,354.32) rotate(-90)"><text x="-9.04" y="0" font-size="13" fill="#1a1a1a" text-anchor="start">0.8</text></g>
<g transform="translate(380.70,311.60) rotate(-90)"><path transform="translate(-9.04,0) scale(0.00635,-0.00635)" d="M763 0L583 0L583 1147Q518 1085 412.5 1023Q307 961 223 930L223 1104Q374 1175 487 1276Q600 1377 647 1472L763 1472Z" fill="#1a1a1a"/><text x="-1.81" y="0" font-size="13" fill="#1a1a1a" text-anchor="start">.0</text></g>
</g>
<text x="440.9" y="568.0" font-size="15" text-anchor="middle" fill="#1a1a1a">Year</text>
<text transform="translate(362.7,420.8) rotate(-90)" font-size="14.3" text-anchor="middle" fill="#1a1a1a">Survival probability</text>
<path d="M391.1 313.1H392.0V315.0H393.0V318.0H394.0V320.0H395.3V322.0H395.8V330.0H396.3V340.0H400.0V345.0H401.5V350.5H403.6V357.0H431.0V366.8H452.0V382.3H485.2" stroke="#111" stroke-width="2.3" fill="none"/>
<path d="M396.7 319.9v6.2M393.8 323.0h5.8M414.0 353.9v6.2M411.1 357.0h5.8M418.0 353.9v6.2M415.1 357.0h5.8M421.4 353.9v6.2M418.5 357.0h5.8M424.9 353.9v6.2M422.0 357.0h5.8M427.8 353.9v6.2M424.9 357.0h5.8M430.1 353.9v6.2M427.2 357.0h5.8M434.7 363.7v6.2M431.8 366.8h5.8M438.1 363.7v6.2M435.2 366.8h5.8M444.8 363.7v6.2M441.9 366.8h5.8M446.8 363.7v6.2M443.9 366.8h5.8M449.5 363.7v6.2M446.6 366.8h5.8M455.6 379.2v6.2M452.7 382.3h5.8M457.6 379.2v6.2M454.7 382.3h5.8M459.6 379.2v6.2M456.7 382.3h5.8M465.0 379.2v6.2M462.1 382.3h5.8M471.1 379.2v6.2M468.2 382.3h5.8M485.2 379.2v6.2M482.3 382.3h5.8" stroke="#111" stroke-width="1.6" fill="none"/>
<path d="M391.1 313.1H392.3V316.0H393.3V320.0H394.3V325.0H395.2V330.0H396.0V336.0H399.5V343.0H400.0V350.0H400.5V360.0H400.8V375.5H409.4V380.5H409.9V387.0H418.6V394.9H436.9V414.9H501.5" stroke="#cc2229" stroke-width="2.3" fill="none"/>
<path d="M401.3 372.4v6.2M398.4 375.5h5.8M409.9 377.4v6.2M407.0 380.5h5.8M412.8 383.9v6.2M409.9 387.0h5.8M417.4 383.9v6.2M414.5 387.0h5.8M423.8 391.8v6.2M420.9 394.9h5.8M428.4 391.8v6.2M425.5 394.9h5.8M434.1 391.8v6.2M431.2 394.9h5.8M439.2 411.8v6.2M436.3 414.9h5.8M451.5 411.8v6.2M448.6 414.9h5.8M453.8 411.8v6.2M450.9 414.9h5.8M460.8 411.8v6.2M457.9 414.9h5.8M468.5 411.8v6.2M465.6 414.9h5.8M472.3 411.8v6.2M469.4 414.9h5.8M487.7 411.8v6.2M484.8 414.9h5.8M501.5 411.8v6.2M498.6 414.9h5.8" stroke="#cc2229" stroke-width="1.6" fill="none"/>
<path d="M391.1 313.1H392.5V316.0H393.3V320.0H394.2V324.0H395.0V328.0H395.8V332.0H396.5V336.0H397.2V340.0H397.8V344.0H398.5V348.0H399.3V352.0H399.8V358.0H400.3V364.0H400.8V371.8H405.3V373.0H405.9V390.3H406.6V395.0H407.3V399.0H408.2V404.1H408.8V408.0H410.5V413.8H411.6V425.3H415.1V428.8H416.3V432.2H418.0V438.0H427.2V452.4H441.1V460.5H461.5V477.5H464.0V502.1H466.4" stroke="#60ae42" stroke-width="2.3" fill="none"/>
<path d="M406.5 387.2v6.2M403.6 390.3h5.8M423.8 434.9v6.2M420.9 438.0h5.8M433.6 449.3v6.2M430.7 452.4h5.8M446.5 457.4v6.2M443.6 460.5h5.8M449.2 457.4v6.2M446.3 460.5h5.8M451.1 457.4v6.2M448.2 460.5h5.8M454.8 457.4v6.2M451.9 460.5h5.8M461.5 474.4v6.2M458.6 477.5h5.8M466.4 499.0v6.2M463.5 502.1h5.8" stroke="#60ae42" stroke-width="1.6" fill="none"/>
<path d="M391.1 313.1H392.0V320.0H392.3V330.0H392.6V345.0H393.0V360.0H393.5V375.0H394.0V390.0H394.5V405.0H394.9V418.0H395.5V425.0H396.1V433.4H397.2V438.0H398.4V442.6H399.0V450.0H399.5V460.5H403.6V466.0H404.2V472.0H404.7V477.0H408.2V482.8H420.3V488.6H427.2V494.9H435.3V501.8H457.2" stroke="#303f96" stroke-width="2.3" fill="none"/>
<path d="M418.6 479.7v6.2M415.7 482.8h5.8M442.0 498.7v6.2M439.1 501.8h5.8M454.8 498.7v6.2M451.9 501.8h5.8M457.2 498.7v6.2M454.3 501.8h5.8" stroke="#303f96" stroke-width="1.6" fill="none"/>
<text x="40.7" y="12.7" font-size="18.5" font-weight="bold" fill="#111">A</text><text x="53.8" y="12.7" font-size="14.5" fill="#111">i</text><text x="60.6" y="12.7" font-size="12" font-weight="bold" fill="#111">Clinical Factors</text>
<text x="191.0" y="12.7" font-size="14.5" fill="#111">ii</text><text x="200.7" y="12.7" font-size="12" font-weight="bold" fill="#111">Clinical Factors+ 6–gene</text>
<text x="365.5" y="12.7" font-size="14.5" fill="#111">iii</text><text x="378.0" y="12.7" font-size="12" font-weight="bold" fill="#111">Clinical Factors+ 2–gene</text>
<text x="40.5" y="299.7" font-size="18.5" font-weight="bold" fill="#111">B</text><text x="54.2" y="299.7" font-size="14.5" fill="#111">i</text><text x="60.4" y="299.7" font-size="12" font-weight="bold" fill="#111">Clinical Factors</text>
<text x="188.0" y="299.7" font-size="14.5" fill="#111">ii</text><text x="197.5" y="299.7" font-size="12" font-weight="bold" fill="#111">Clinical Factors+ 6–gene</text>
<text x="366.4" y="299.7" font-size="14.5" fill="#111">iii</text><text x="378.8" y="299.7" font-size="12" font-weight="bold" fill="#111">Clinical Factors+ 2–gene</text>
<line x1="439.8" y1="192.6" x2="454.2" y2="192.6" stroke="#111" stroke-width="2.3"/><g transform="translate(459.6,196.20) scale(0.963,1)"><text x="0" y="0" font-size="10.8" fill="#1a1a1a">Quartile</text><g transform="translate(40.82,0)"><path transform="translate(0.00,0) scale(0.00527,-0.00527)" d="M763 0L583 0L583 1147Q518 1085 412.5 1023Q307 961 223 930L223 1104Q374 1175 487 1276Q600 1377 647 1472L763 1472Z" fill="#1a1a1a"/></g></g><line x1="439.8" y1="205.5" x2="454.2" y2="205.5" stroke="#cc2229" stroke-width="2.3"/><g transform="translate(459.6,208.90) scale(0.963,1)"><text x="0" y="0" font-size="10.8" fill="#1a1a1a">Quartile 2</text></g><line x1="439.8" y1="218.4" x2="454.2" y2="218.4" stroke="#60ae42" stroke-width="2.3"/><g transform="translate(459.6,221.60) scale(0.963,1)"><text x="0" y="0" font-size="10.8" fill="#1a1a1a">Quartile 3</text></g><line x1="439.8" y1="231.3" x2="454.2" y2="231.3" stroke="#303f96" stroke-width="2.3"/><g transform="translate(459.6,234.30) scale(0.963,1)"><text x="0" y="0" font-size="10.8" fill="#1a1a1a">Quartile 4</text></g>
</svg>
</body></html>
